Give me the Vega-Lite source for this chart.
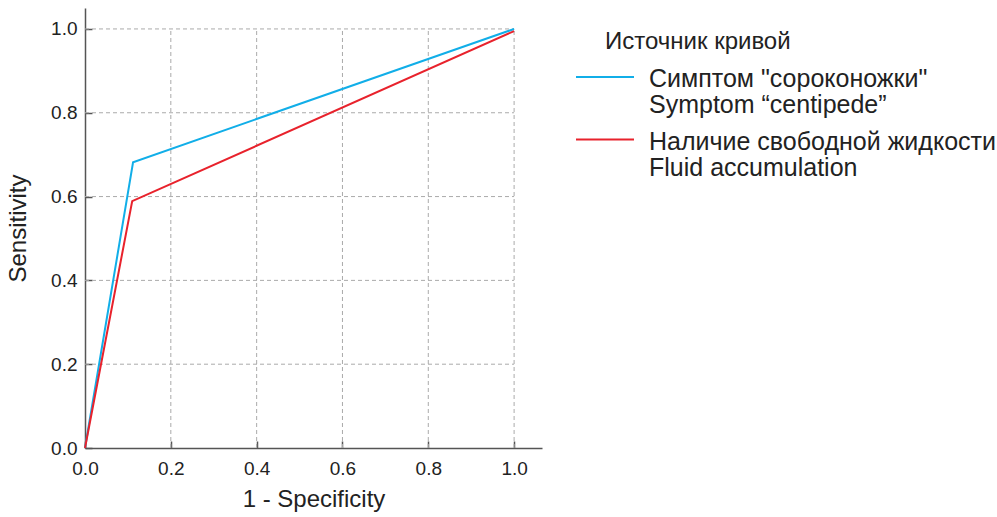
{
  "$schema": "https://vega.github.io/schema/vega-lite/v6.json",
  "width": 457,
  "height": 440,
  "autosize": {"type": "none"},
  "padding": {"left": 85, "top": 8, "right": 455, "bottom": 69},
  "background": "white",
  "config": {
    "view": {"stroke": null},
    "font": "Liberation Sans"
  },
  "datasets": {
    "roc": [
      {"fpr": 0.0, "tpr": 0.0, "source": "Симптом \"сороконожки\"|Symptom “centipede”"},
      {"fpr": 0.112, "tpr": 0.682, "source": "Симптом \"сороконожки\"|Symptom “centipede”"},
      {"fpr": 1.0, "tpr": 1.0, "source": "Симптом \"сороконожки\"|Symptom “centipede”"},
      {"fpr": 0.0, "tpr": 0.0, "source": "Наличие свободной жидкости|Fluid accumulation"},
      {"fpr": 0.11, "tpr": 0.589, "source": "Наличие свободной жидкости|Fluid accumulation"},
      {"fpr": 1.0, "tpr": 0.995, "source": "Наличие свободной жидкости|Fluid accumulation"}
    ],
    "grid": [{"v": 0.2}, {"v": 0.4}, {"v": 0.6}, {"v": 0.8}, {"v": 1.0}]
  },
  "layer": [
    {
      "data": {"name": "grid"},
      "mark": {"type": "rule", "color": "#aaaaaa", "strokeWidth": 1, "strokeDash": [4, 3]},
      "encoding": {
        "x": {"field": "v", "type": "quantitative", "scale": {"domain": [0, 1.065], "nice": false, "zero": false}},
        "y": {"datum": 0, "type": "quantitative"},
        "y2": {"datum": 1}
      }
    },
    {
      "data": {"name": "grid"},
      "mark": {"type": "rule", "color": "#aaaaaa", "strokeWidth": 1, "strokeDash": [4, 3]},
      "encoding": {
        "y": {"field": "v", "type": "quantitative"},
        "x": {"datum": 0, "type": "quantitative"},
        "x2": {"datum": 1}
      }
    },
    {
      "data": {"name": "roc"},
      "mark": {"type": "line", "strokeWidth": 2, "clip": false},
      "encoding": {
        "x": {
          "field": "fpr", "type": "quantitative",
          "scale": {"domain": [0, 1.065], "nice": false, "zero": false},
          "axis": {
            "title": "1 - Specificity",
            "values": [0, 0.2, 0.4, 0.6, 0.8, 1.0],
            "format": ".1f",
            "grid": false,
            "domainColor": "#555555",
            "domainWidth": 1.5,
            "tickColor": "#555555",
            "tickWidth": 1.5,
            "tickSize": -7,
            "labelPadding": 18,
            "labelFontSize": 19,
            "labelColor": "#222222",
            "labelFlush": false,
            "titleFontSize": 24,
            "titleFontWeight": "normal",
            "titleColor": "#222222",
            "titlePadding": 9
          }
        },
        "y": {
          "field": "tpr", "type": "quantitative",
          "scale": {"domain": [0, 1.05], "nice": false, "zero": false},
          "axis": {
            "title": "Sensitivity",
            "values": [0, 0.2, 0.4, 0.6, 0.8, 1.0],
            "format": ".1f",
            "grid": false,
            "domainColor": "#555555",
            "domainWidth": 1.5,
            "tickColor": "#555555",
            "tickWidth": 1.5,
            "tickSize": -7,
            "labelPadding": 15,
            "labelFontSize": 19,
            "labelColor": "#222222",
            "labelFlush": false,
            "titleFontSize": 24,
            "titleFontWeight": "normal",
            "titleColor": "#222222",
            "titlePadding": 20
          }
        },
        "color": {
          "field": "source", "type": "nominal",
          "scale": {
            "domain": ["Симптом \"сороконожки\"|Symptom “centipede”", "Наличие свободной жидкости|Fluid accumulation"],
            "range": ["#11aee8", "#e8222c"]
          },
          "legend": {
            "title": "Источник кривой",
            "orient": "none",
            "legendX": 520,
            "legendY": 22,
            "padding": 0,
            "titleFontSize": 24,
            "titleFontWeight": "normal",
            "titleColor": "#222222",
            "titleLimit": 500,
            "titlePadding": 7.5,
            "symbolType": "M-2,0H2",
            "symbolSize": 841,
            "symbolStrokeWidth": 2,
            "symbolOffset": -15.5,
            "labelOffset": 28.5,
            "labelFontSize": 25,
            "labelColor": "#222222",
            "labelLimit": 500,
            "labelBaseline": "top",
            "labelExpr": "split(datum.label, '|')",
            "rowPadding": 5.5,
            "encode": {
              "labels": {"update": {"lineHeight": {"value": 26}, "dy": {"value": -10}}}
            }
          }
        }
      }
    }
  ]
}
